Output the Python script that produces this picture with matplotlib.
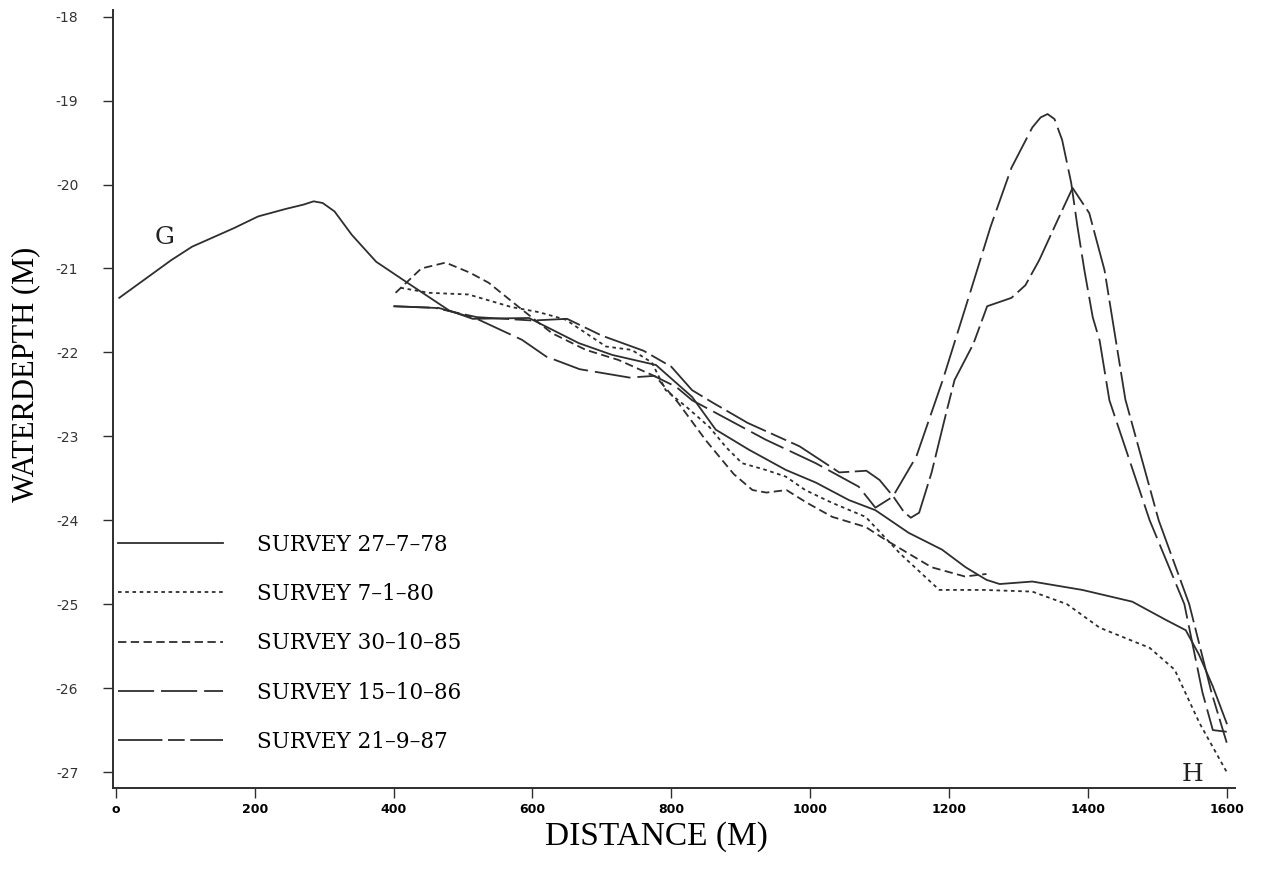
import matplotlib
matplotlib.use("Agg")
import matplotlib.pyplot as plt

plt.rcParams['lines.scale_dashes'] = False

# ---- data (distance m, water depth m) ----
s78_x = [5, 80, 110, 170, 205, 245, 270, 285, 298, 315, 340, 375, 420, 480, 514, 595, 667, 715, 778,
         830, 864, 912, 965, 1008, 1056, 1094, 1142, 1190, 1224, 1254, 1273, 1320, 1392, 1464, 1513,
         1541, 1560, 1580, 1600]
s78_y = [-21.35, -20.9, -20.74, -20.52, -20.38, -20.29, -20.24, -20.2, -20.22, -20.32, -20.6, -20.92,
         -21.17, -21.5, -21.6, -21.59, -21.89, -22.03, -22.15, -22.53, -22.92, -23.16, -23.4, -23.55,
         -23.76, -23.88, -24.15, -24.35, -24.56, -24.71, -24.76, -24.73, -24.83, -24.97, -25.19,
         -25.31, -25.6, -25.98, -26.42]

s80_x = [410, 451, 508, 570, 609, 648, 706, 743, 772, 792, 822, 855, 879, 902, 936, 965, 993, 1031,
         1080, 1130, 1186, 1250, 1320, 1370, 1417, 1489, 1525, 1561, 1600]
s80_y = [-21.23, -21.29, -21.31, -21.46, -21.52, -21.61, -21.93, -21.97, -22.12, -22.45, -22.65, -22.89,
         -23.13, -23.32, -23.4, -23.48, -23.64, -23.79, -23.96, -24.4, -24.83, -24.83, -24.85, -25.0,
         -25.28, -25.52, -25.78, -26.42, -27.0]

s85_x = [403, 440, 475, 510, 537, 585, 628, 677, 724, 778, 810, 850, 890, 917, 937, 966, 995, 1032,
         1080, 1108, 1175, 1223, 1254]
s85_y = [-21.29, -21.0, -20.93, -21.05, -21.17, -21.49, -21.77, -21.97, -22.09, -22.29, -22.6, -23.05,
         -23.45, -23.64, -23.67, -23.64, -23.79, -23.96, -24.08, -24.23, -24.56, -24.67, -24.64]

s86_x = [400, 465, 520, 585, 620, 668, 740, 775, 807, 830, 864, 936, 1008, 1070, 1094, 1119, 1153,
         1191, 1230, 1260, 1290, 1320, 1332, 1342, 1352, 1363, 1376, 1385, 1395, 1407, 1417, 1431,
         1489, 1539, 1565, 1580, 1600]
s86_y = [-21.45, -21.47, -21.6, -21.85, -22.05, -22.2, -22.3, -22.28, -22.41, -22.57, -22.72, -23.04,
         -23.32, -23.6, -23.85, -23.72, -23.24, -22.33, -21.3, -20.5, -19.8, -19.32, -19.2, -19.16,
         -19.22, -19.47, -19.98, -20.5, -21.02, -21.58, -21.86, -22.57, -24.0, -25.0, -26.05,
         -26.5, -26.52]

s87_x = [400, 460, 520, 600, 650, 700, 760, 800, 830, 860, 910, 985, 1042, 1081, 1100, 1120, 1135,
         1145, 1157, 1175, 1196, 1208, 1235, 1255, 1290, 1310, 1330, 1355, 1378, 1402, 1424, 1454,
         1502, 1546, 1578, 1600]
s87_y = [-21.45, -21.47, -21.58, -21.62, -21.6, -21.8, -21.98, -22.17, -22.45, -22.6, -22.84, -23.12,
         -23.43, -23.41, -23.52, -23.72, -23.9, -23.97, -23.91, -23.43, -22.72, -22.33, -21.9, -21.45,
         -21.35, -21.2, -20.9, -20.45, -20.04, -20.34, -21.02, -22.56, -24.0, -25.0, -26.05, -26.65]

labels = ["SURVEY 27\u20137\u201378", "SURVEY 7\u20131\u201380", "SURVEY 30\u201310\u201385",
          "SURVEY 15\u201310\u201386", "SURVEY 21\u20139\u201387"]
x_ticks = [0, 200, 400, 600, 800, 1000, 1200, 1400, 1600]
y_ticks = [-18, -19, -20, -21, -22, -23, -24, -25, -26, -27]

# ---- figure ----
fig = plt.figure(figsize=(12.64, 8.74), dpi=100)
ax = fig.add_axes([0.0894, 0.0984, 0.8877, 0.8902])
col = "#2e2e2e"
lw = 1.3
styles = ['-', (0, (2.6, 2.6)), (0, (6, 3.2)), (0, (26, 5)), (0, (32, 4, 12, 4))]
series = [(s78_x, s78_y), (s80_x, s80_y), (s85_x, s85_y), (s86_x, s86_y), (s87_x, s87_y)]
for (xs, ys), ls, lab in zip(series, styles, labels):
    ax.plot(xs, ys, color=col, lw=lw, linestyle=ls, label=lab)

ax.set_xlim(-4, 1612)
ax.set_ylim(-27.19, -17.92)
for s in ['top', 'right']:
    ax.spines[s].set_visible(False)
for s in ['left', 'bottom']:
    ax.spines[s].set_color(col)
    ax.spines[s].set_linewidth(1.4)

ax.set_xticks(x_ticks)
ax.set_xticklabels([("o" if v == 0 else str(v)) for v in x_ticks],
                   fontsize=9, fontweight='bold', family='DejaVu Sans')
ax.set_yticks(y_ticks)
ax.set_yticklabels([str(v) for v in y_ticks], fontsize=10, family='DejaVu Sans', color='#333')
ax.tick_params(axis='x', direction='out', length=7, width=1, color=col, pad=4)
ax.tick_params(axis='y', direction='out', length=7, width=1, color=col, pad=18)

ax.set_xlabel("DISTANCE (M)", fontsize=24, family='Liberation Serif')
ax.xaxis.set_label_coords(0.484, -0.043)
ax.set_ylabel("WATERDEPTH (M)", fontsize=22, family='Liberation Serif')
ax.yaxis.set_label_coords(-0.065, 0.531)

ax.text(70, -20.63, "G", fontsize=18, family='DejaVu Serif', ha='center', va='center', color='#222')
ax.text(1551, -27.03, "H", fontsize=18, family='DejaVu Serif', ha='center', va='center', color='#222')

leg = ax.legend(loc='upper left', bbox_to_anchor=(-0.0125, 0.352), frameon=False,
                handlelength=4.84, handletextpad=1.6, labelspacing=1.27,
                prop={'family': 'DejaVu Serif', 'size': 15.5})

fig.savefig("out.png", dpi=100, facecolor='white')
